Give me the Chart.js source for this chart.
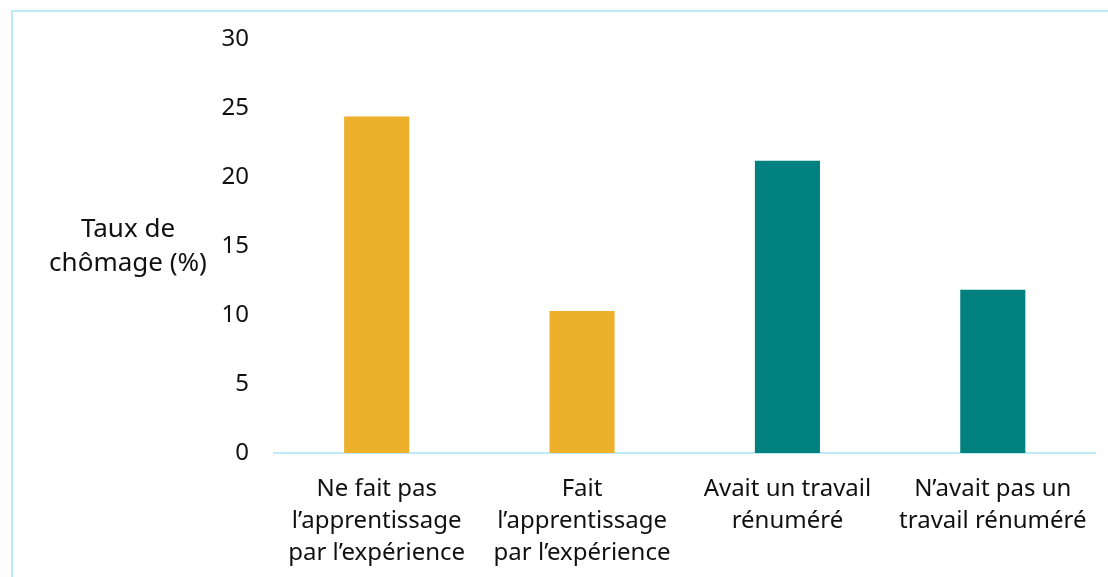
<!DOCTYPE html>
<html>
<head>
<meta charset="utf-8">
<script src="https://cdn.jsdelivr.net/npm/chart.js@4/dist/chart.umd.min.js"></script>
<style>
  html, body { margin: 0; padding: 0; background: #fff; }
  #wrap { width: 1108px; height: 577px; position: relative; }
</style>
</head>
<body>
<div id="wrap"><canvas id="c" width="1108" height="577"></canvas></div>
<script>
const categories = [
  ['Ne fait pas', 'l\u2019apprentissage', 'par l\u2019exp\u00e9rience'],
  ['Fait', 'l\u2019apprentissage', 'par l\u2019exp\u00e9rience'],
  ['Avait un travail', 'r\u00e9num\u00e9r\u00e9'],
  ['N\u2019avait pas un', 'travail r\u00e9num\u00e9r\u00e9']
];
const valeurs = [24.4, 10.3, 21.2, 11.85];
const couleurs = ['#EDB02A', '#EDB02A', '#00807E', '#00807E'];
const titreAxeY = ['Taux de', 'ch\u00f4mage (%)'];

const FONT = '"Noto Sans", "Open Sans", sans-serif';
const CADRE = '#BDEBF7';

// cadre + titre de l'axe Y (horizontal)
const decor = {
  id: 'decor',
  afterDraw(chart) {
    const ctx = chart.ctx;
    ctx.save();
    ctx.strokeStyle = CADRE;
    ctx.lineWidth = 2;
    ctx.beginPath();
    ctx.moveTo(12, 600);
    ctx.lineTo(12, 11);
    ctx.lineTo(1120, 11);
    ctx.stroke();

    ctx.fillStyle = '#111';
    ctx.font = '26px ' + FONT;
    ctx.textAlign = 'center';
    ctx.textBaseline = 'middle';
    ctx.fillText(titreAxeY[0], 128, 230);
    ctx.fillText(titreAxeY[1], 128, 264);
    ctx.restore();
  }
};

new Chart(document.getElementById('c'), {
  type: 'bar',
  data: {
    labels: categories,
    datasets: [{
      data: valeurs,
      backgroundColor: couleurs,
      barPercentage: 0.634,
      categoryPercentage: 0.5
    }]
  },
  options: {
    responsive: false,
    animation: false,
    layout: { padding: { top: 38, right: 12, left: 0, bottom: 0 } },
    plugins: { legend: { display: false }, tooltip: { enabled: false } },
    scales: {
      y: {
        min: 0,
        max: 30,
        ticks: {
          stepSize: 5,
          color: '#111',
          padding: 25,
          font: { family: FONT, size: 24 }
        },
        grid: { display: false, drawTicks: false },
        border: { display: false },
        afterFit(scale) { scale.width = 274; }
      },
      x: {
        ticks: {
          color: '#111',
          padding: 20,
          maxRotation: 0,
          autoSkip: false,
          font: { family: FONT, size: 24, lineHeight: 1.333 }
        },
        grid: { display: false, drawTicks: false },
        border: { display: true, color: CADRE, width: 2 },
        afterFit(scale) { scale.height = 124; }
      }
    }
  },
  plugins: [decor]
});
</script>
</body>
</html>
